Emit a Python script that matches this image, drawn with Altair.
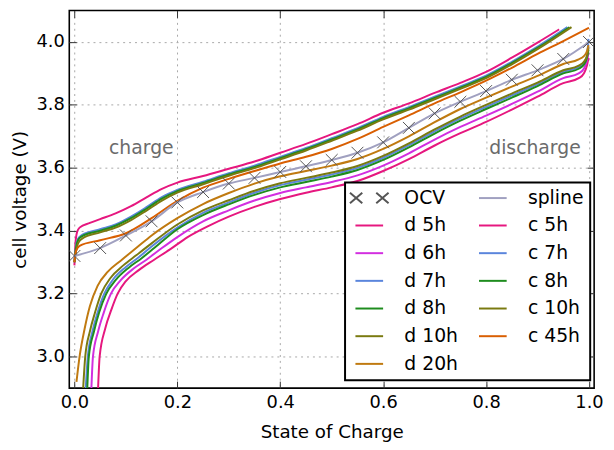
import altair as alt
import pandas as pd

# ---------------- data ----------------
ocv_soc = [0.0, 0.05, 0.1, 0.15, 0.2, 0.25, 0.3, 0.35, 0.4, 0.45, 0.5,
           0.55, 0.6, 0.65, 0.7, 0.75, 0.8, 0.85, 0.9, 0.95, 1.0]
ocv_v = [3.32, 3.345, 3.385, 3.43, 3.49, 3.523, 3.55, 3.568, 3.587, 3.605, 3.625,
         3.648, 3.681, 3.727, 3.773, 3.81, 3.844, 3.88, 3.91, 3.946, 4.0]

mid_grid = [0.2, 0.25, 0.3, 0.35, 0.4, 0.45, 0.5, 0.55, 0.6, 0.65, 0.7, 0.75,
            0.8, 0.85, 0.9, 0.95]
end_grid = [0.98, 0.99, 0.996, 0.999]

d20_soc = [0.004, 0.01, 0.02, 0.03, 0.045, 0.065, 0.09, 0.12, 0.15] + mid_grid + end_grid
d20_v = [2.92, 3.00, 3.09, 3.16, 3.225, 3.27, 3.305, 3.345, 3.385,
         3.44, 3.485, 3.52, 3.55, 3.573, 3.59, 3.607, 3.628, 3.66, 3.7, 3.745, 3.787,
         3.823, 3.858, 3.892, 3.93, 3.945, 3.955, 3.97, 3.99]

d10_soc = [0.017, 0.021, 0.03, 0.04, 0.052, 0.07, 0.095, 0.12, 0.15] + mid_grid + end_grid
d10_v = [2.90, 3.00, 3.08, 3.14, 3.20, 3.25, 3.29, 3.322, 3.36,
         3.42, 3.465, 3.497, 3.527, 3.551, 3.568, 3.585, 3.606, 3.638, 3.678, 3.722, 3.763,
         3.8, 3.836, 3.871, 3.91, 3.925, 3.937, 3.955, 3.98]

d7_soc = [0.022, 0.026, 0.035, 0.045, 0.058, 0.075, 0.1, 0.125, 0.15] + mid_grid + end_grid
d7_v = [2.90, 3.00, 3.08, 3.14, 3.20, 3.245, 3.285, 3.316, 3.35,
        3.41, 3.457, 3.49, 3.521, 3.545, 3.562, 3.579, 3.6, 3.632, 3.672, 3.716, 3.757,
        3.794, 3.83, 3.866, 3.905, 3.92, 3.933, 3.955, 4.01]

d8_soc = [0.025, 0.028, 0.038, 0.048, 0.062, 0.08, 0.105, 0.13, 0.155] + mid_grid + end_grid
d8_v = [2.90, 3.00, 3.08, 3.14, 3.20, 3.243, 3.282, 3.312, 3.345,
        3.405, 3.45, 3.484, 3.514, 3.538, 3.555, 3.572, 3.593, 3.625, 3.665, 3.709, 3.75,
        3.787, 3.823, 3.86, 3.9, 3.915, 3.928, 3.95, 3.975]

d6_soc = [0.033, 0.036, 0.046, 0.057, 0.071, 0.09, 0.115, 0.14, 0.17] + mid_grid + end_grid
d6_v = [2.90, 3.00, 3.08, 3.14, 3.20, 3.243, 3.28, 3.308, 3.345,
        3.38, 3.43, 3.465, 3.496, 3.52, 3.538, 3.555, 3.576, 3.607, 3.646, 3.69, 3.73,
        3.766, 3.803, 3.842, 3.885, 3.9, 3.915, 3.94, 3.965]

d5_soc = [0.046, 0.049, 0.06, 0.072, 0.084, 0.1, 0.125, 0.155, 0.185, 0.22, 0.26,
          0.3, 0.35, 0.4, 0.45, 0.5, 0.55, 0.6, 0.65, 0.7, 0.75, 0.8, 0.85, 0.9, 0.95] + end_grid
d5_v = [2.90, 3.00, 3.09, 3.15, 3.20, 3.24, 3.275, 3.308, 3.34, 3.38, 3.415,
        3.445, 3.476, 3.501, 3.521, 3.538, 3.558, 3.59, 3.628, 3.671, 3.71, 3.746, 3.785,
        3.826, 3.869, 3.885, 3.9, 3.925, 3.95]

c5_soc = [0.0, 0.002, 0.005, 0.01, 0.03, 0.05, 0.08, 0.11, 0.14, 0.17, 0.2, 0.25, 0.3,
          0.35, 0.4, 0.45, 0.5, 0.55, 0.6, 0.65, 0.7, 0.75, 0.8, 0.85, 0.9, 0.942]
c5_v = [3.29, 3.36, 3.395, 3.41, 3.425, 3.437, 3.455, 3.478, 3.506, 3.533, 3.553, 3.574,
        3.597, 3.62, 3.648, 3.676, 3.707, 3.739, 3.775, 3.805, 3.838, 3.87, 3.905, 3.95,
        3.998, 4.04]

c_soc_head = [0.0, 0.003, 0.007, 0.015, 0.05, 0.08, 0.11, 0.14, 0.17, 0.2, 0.25, 0.3,
              0.35, 0.4, 0.45, 0.5, 0.55, 0.6, 0.65, 0.7, 0.75, 0.8, 0.85, 0.9]
c7_soc = c_soc_head + [0.958]
c7_v = [3.30, 3.35, 3.375, 3.387, 3.405, 3.42, 3.445, 3.475, 3.507, 3.53, 3.556, 3.583,
        3.607, 3.635, 3.663, 3.694, 3.726, 3.762, 3.793, 3.826, 3.859, 3.893, 3.937,
        3.985, 4.047]
c8_soc = c_soc_head + [0.962]
c8_v = [3.30, 3.345, 3.37, 3.383, 3.40, 3.416, 3.44, 3.47, 3.502, 3.526, 3.552, 3.579,
        3.603, 3.631, 3.659, 3.69, 3.722, 3.758, 3.789, 3.822, 3.855, 3.889, 3.933,
        3.981, 4.047]
c10_soc = c_soc_head + [0.966]
c10_v = [3.30, 3.335, 3.36, 3.375, 3.395, 3.41, 3.434, 3.464, 3.496, 3.521, 3.548, 3.575,
         3.599, 3.627, 3.655, 3.686, 3.718, 3.754, 3.785, 3.818, 3.851, 3.885, 3.929,
         3.977, 4.047]

c45_soc = [0.0, 0.003, 0.01, 0.05, 0.1, 0.15, 0.2, 0.25, 0.3, 0.35, 0.4, 0.45, 0.5,
           0.55, 0.6, 0.65, 0.7, 0.75, 0.8, 0.85, 0.9, 0.95, 1.0]
c45_v = [3.30, 3.335, 3.352, 3.37, 3.392, 3.44, 3.495, 3.537, 3.565, 3.59, 3.614, 3.635,
         3.66, 3.692, 3.73, 3.767, 3.805, 3.84, 3.877, 3.918, 3.962, 4.003, 4.045]

# legend order (column-major, two columns)
series_order = ["OCV", "d 5h", "d 6h", "d 7h", "d 8h", "d 10h", "d 20h",
                "spline", "c 5h", "c 7h", "c 8h", "c 10h", "c 45h"]
series_colors = ["#555555", "#e6177f", "#d22ee0", "#5a85dc", "#1e8c1e", "#7a7a10",
                 "#c07a10", "#a0a0c0", "#e6177f", "#5a85dc", "#1e8c1e", "#7a7a10", "#d95f02"]

annot_x = [0.13, 0.895]
annot_y = [3.662, 3.662]
annot_text = ["charge", "discharge"]

x_ticks = [0.0, 0.2, 0.4, 0.6, 0.8, 1.0]
y_ticks = [3.0, 3.2, 3.4, 3.6, 3.8, 4.0]

# ---------------- tables ----------------
curves = {
    "d 5h": (d5_soc, d5_v), "d 6h": (d6_soc, d6_v), "d 7h": (d7_soc, d7_v),
    "d 8h": (d8_soc, d8_v), "d 10h": (d10_soc, d10_v), "d 20h": (d20_soc, d20_v),
    "c 5h": (c5_soc, c5_v), "c 7h": (c7_soc, c7_v), "c 8h": (c8_soc, c8_v),
    "c 10h": (c10_soc, c10_v), "c 45h": (c45_soc, c45_v),
    "spline": (ocv_soc, ocv_v),
}
rows = []
for name, (xs_, vs_) in curves.items():
    for a, b in zip(xs_, vs_):
        rows.append({"series": name, "soc": a, "v": b})
lines_df = pd.DataFrame(rows)
ocv_df = pd.DataFrame({"series": "OCV", "soc": ocv_soc, "v": ocv_v})
legend_df = pd.DataFrame({"series": series_order,
                          "soc": [ocv_soc[0]] * len(series_order),
                          "v": [ocv_v[0]] * len(series_order)})
annot_df = pd.DataFrame({"soc": annot_x, "v": annot_y, "label": annot_text})

FONT = "DejaVu Sans"
xs = alt.Scale(domain=[-0.01, 1.01], nice=False, zero=False)
ys = alt.Scale(domain=[2.9, 4.1], nice=False, zero=False)
cs = alt.Scale(domain=series_order, range=series_colors)

LINE_PATH = "M-2,0H2"
OCV_PATH = ("M-2.79,-0.76L-1.01,0.76M-2.79,0.76L-1.01,-0.76"
            "M1.01,-0.76L2.79,0.76M1.01,0.76L2.79,-0.76")
shape_range = [OCV_PATH] + [LINE_PATH] * (len(series_order) - 1)
ss = alt.Scale(domain=series_order, range=shape_range)

x_axis = alt.Axis(values=x_ticks, format=".1f", offset=-7, tickSize=7, domain=False,
                  grid=True, gridDash=[2, 4], gridColor="#a8a8a8", tickColor="#333333",
                  labelFontSize=18, labelPadding=6, labelColor="black", labelFont=FONT,
                  title="State of Charge", titleFontSize=18.5, titleFontWeight="normal",
                  titleFont=FONT, titlePadding=11, titleColor="black")
y_axis = alt.Axis(values=y_ticks, format=".1f", offset=-7, tickSize=7, domain=False,
                  grid=True, gridDash=[2, 4], gridColor="#a8a8a8", tickColor="#333333",
                  labelFontSize=18, labelPadding=5, labelColor="black", labelFont=FONT,
                  title="cell voltage (V)", titleFontSize=18.5, titleFontWeight="normal",
                  titleFont=FONT, titlePadding=7, titleColor="black")
x_top = alt.Axis(orient="top", values=x_ticks, offset=-7, tickSize=7, domain=False,
                 grid=False, labels=False, title=None, tickColor="#333333")
y_right = alt.Axis(orient="right", values=y_ticks, offset=-7, tickSize=7, domain=False,
                   grid=False, labels=False, title=None, tickColor="#333333")

lines = alt.Chart(lines_df).mark_line(strokeWidth=2, interpolate="monotone", clip=True).encode(
    x=alt.X("soc:Q", scale=xs, axis=x_axis),
    y=alt.Y("v:Q", scale=ys, axis=y_axis),
    color=alt.Color("series:N", scale=cs, legend=None),
    detail="series:N",
)

markers = alt.Chart(ocv_df).mark_point(
    shape="M-1,-1L1,1M-1,1L1,-1", size=144, strokeWidth=1, filled=False, opacity=1, clip=True
).encode(
    x=alt.X("soc:Q", scale=xs, axis=None),
    y=alt.Y("v:Q", scale=ys, axis=None),
    color=alt.Color("series:N", scale=cs, legend=None),
)

annots = alt.Chart(annot_df).mark_text(fontSize=19, font=FONT, color="#6b6b6b").encode(
    x=alt.X("soc:Q", scale=xs, axis=None),
    y=alt.Y("v:Q", scale=ys, axis=None),
    text="label:N",
)

legend_props = dict(
    orient="none", legendX=279, legendY=174, columns=2, title=None,
    padding=6, rowPadding=8, columnPadding=16, symbolOffset=9, labelOffset=26,
    symbolSize=196, symbolStrokeWidth=2, labelFontSize=19, labelFont=FONT,
    labelColor="black", strokeColor="black", fillColor="white", symbolOpacity=1,
    labelLimit=200,
)
legend_layer = alt.Chart(legend_df).mark_point(filled=False, opacity=0).encode(
    x=alt.X("soc:Q", scale=xs, axis=x_top),
    y=alt.Y("v:Q", scale=ys, axis=y_right),
    color=alt.Color("series:N", scale=cs, legend=alt.Legend(**legend_props)),
    shape=alt.Shape("series:N", scale=ss, legend=alt.Legend(**legend_props)),
)

chart = alt.layer(lines, markers, annots, legend_layer).resolve_axis(
    x="independent", y="independent"
).resolve_legend(
    color="independent", shape="independent"
).properties(
    width=531, height=382,
    autosize=alt.AutoSizeParams(type="none"),
    padding={"left": 62, "top": 0, "right": 12, "bottom": 52},
).configure(font=FONT).configure_view(
    stroke="black", strokeWidth=1.6
).configure_legend(strokeWidth=2)

chart.save("out.html", embed_options={"renderer": "svg", "actions": False})
